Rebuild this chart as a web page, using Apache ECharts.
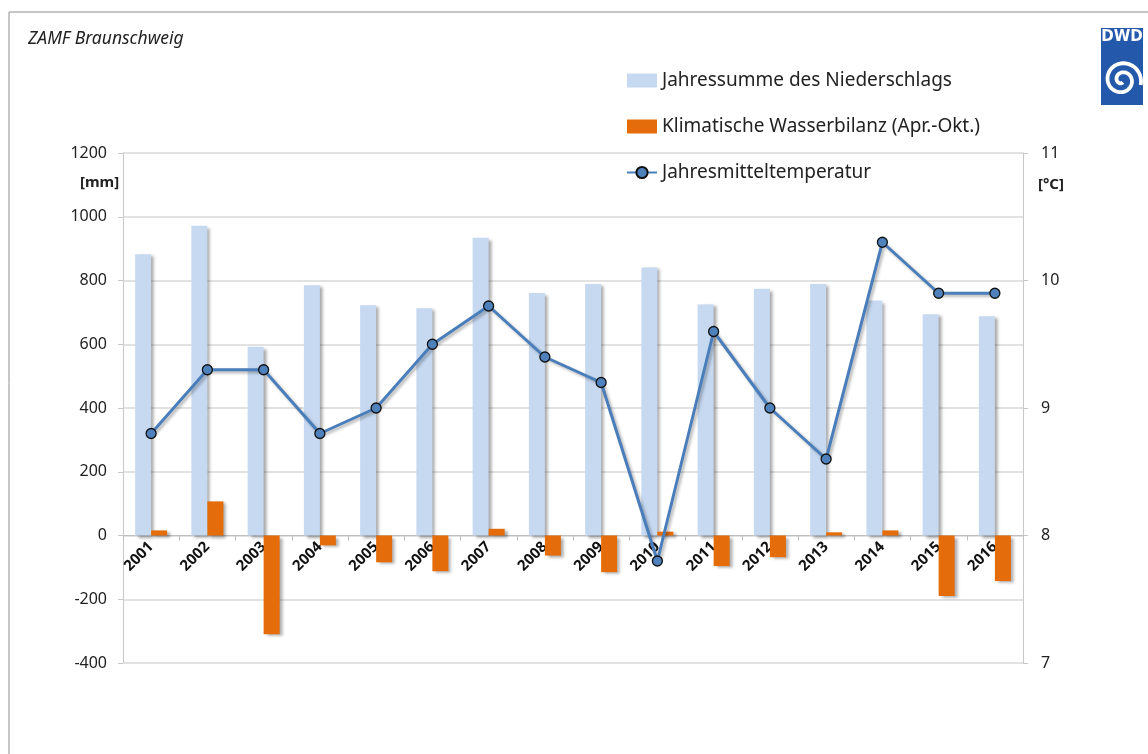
<!DOCTYPE html>
<html>
<head>
<meta charset="utf-8">
<script src="https://cdn.jsdelivr.net/npm/echarts@6/dist/echarts.min.js"></script>
<style>
  html, body { margin: 0; padding: 0; background: #fff; }
  #main { width: 1148px; height: 754px; }
</style>
</head>
<body>
<div id="main"></div>
<script>
var years = ['2001','2002','2003','2004','2005','2006','2007','2008','2009','2010','2011','2012','2013','2014','2015','2016'];
var niederschlag = [882, 972, 592, 785, 722, 713, 934, 761, 789, 841, 725, 774, 789, 737, 694, 688];
var wasserbilanz = [16, 107, -310, -31, -84, -112, 21, -63, -115, 12, -96, -68, 10, 16, -190, -143];
var temperatur = [8.8, 9.3, 9.3, 8.8, 9.0, 9.5, 9.8, 9.4, 9.2, 7.8, 9.6, 9.0, 8.6, 10.3, 9.9, 9.9];

var FONT = 'Noto Sans';

// DWD spiral for the logo (decoration only)
function spiralPoints(cx, cy) {
  var pts = [];
  for (var i = 0; i <= 90; i++) {
    var t = i / 90 * Math.PI * 3.7;
    var r = 2.5 + t * 1.45;
    pts.push([cx + r * Math.cos(t + 1.2), cy + r * Math.sin(t + 1.2)]);
  }
  return pts;
}

var myChart = echarts.init(document.getElementById('main'));
var barShadow = {
  shadowColor: 'rgba(0,0,0,0.35)',
  shadowBlur: 3,
  shadowOffsetX: 3,
  shadowOffsetY: 2
};

// the x axis sits at 0 mm: 400 of 1600 mm over a 510px high plot
var plotH = 754 - 153 - 91;
var zeroOffset = -plotH * 400 / 1600;

myChart.setOption({
  animation: false,
  textStyle: { fontFamily: FONT },
  graphic: [
    { type: 'rect', shape: { x: 9, y: 12, width: 1160, height: 760 },
      style: { fill: 'none', stroke: '#8c8c8c', lineWidth: 1 }, silent: true, z: -10 },
    { type: 'text', x: 28, y: 30,
      style: { text: 'ZAMF Braunschweig', font: 'italic 17.5px "Noto Sans"', fill: '#222' } },
    { type: 'text', x: 80, y: 175,
      style: { text: '[mm]', font: 'bold 15px "Noto Sans"', fill: '#222' } },
    { type: 'text', x: 1038, y: 177,
      style: { text: '[°C]', font: 'bold 15px "Noto Sans"', fill: '#222' } },
    { type: 'rect', shape: { x: 1101, y: 28, width: 42, height: 77 },
      style: { fill: '#2458ab' } },
    { type: 'text', x: 1122, y: 30,
      style: { text: 'DWD', font: 'bold 15px "DejaVu Sans"', fill: '#fff', align: 'center' } },
    { type: 'polyline', shape: { points: spiralPoints(1122, 80) },
      style: { fill: null, stroke: '#fff', lineWidth: 3.8 } }
  ],
  legend: {
    orient: 'vertical',
    left: 621,
    top: 66,
    itemWidth: 30,
    itemHeight: 14,
    itemGap: 27,
    textStyle: { fontSize: 19, color: '#222', fontFamily: FONT },
    data: [
      { name: 'Jahressumme des Niederschlags', icon: 'rect' },
      { name: 'Klimatische Wasserbilanz (Apr.-Okt.)', icon: 'rect' },
      'Jahresmitteltemperatur'
    ]
  },
  grid: { left: 123, right: 125, top: 153, bottom: 91 },
  xAxis: {
    type: 'category',
    data: years,
    offset: zeroOffset,
    z: 0,
    axisLine: { onZero: false, lineStyle: { color: '#bfbfbf', width: 1 } },
    axisTick: { show: true, length: 5, lineStyle: { color: '#bfbfbf' } },
    axisLabel: { rotate: 45, margin: 9, fontWeight: 'bold', fontSize: 15, color: '#111', fontFamily: FONT }
  },
  yAxis: [
    {
      type: 'value', min: -400, max: 1200, interval: 200,
      axisLine: { show: true, lineStyle: { color: '#c8c8c8' } },
      axisTick: { show: true, length: 5, lineStyle: { color: '#c8c8c8' } },
      axisLabel: { fontSize: 16, color: '#222', margin: 16, fontFamily: FONT, formatter: function (v) { return String(v); } },
      splitLine: { lineStyle: { color: '#d9d9d9', width: 1.5 } }
    },
    {
      type: 'value', min: 7, max: 11, interval: 1,
      axisLine: { show: true, lineStyle: { color: '#c8c8c8' } },
      axisTick: { show: true, length: 5, lineStyle: { color: '#c8c8c8' } },
      axisLabel: { fontSize: 16, color: '#222', margin: 18, fontFamily: FONT },
      splitLine: { show: false }
    }
  ],
  series: [
    {
      name: 'Jahressumme des Niederschlags',
      type: 'bar',
      data: niederschlag,
      barWidth: 16,
      barGap: '0%',
      z: 5,
      itemStyle: Object.assign({ color: '#c6d9f1' }, barShadow)
    },
    {
      name: 'Klimatische Wasserbilanz (Apr.-Okt.)',
      type: 'bar',
      data: wasserbilanz,
      barWidth: 16,
      z: 5,
      itemStyle: Object.assign({ color: '#e46c0a' }, barShadow)
    },
    {
      name: 'Jahresmitteltemperatur',
      type: 'line',
      yAxisIndex: 1,
      data: temperatur,
      symbol: 'circle',
      symbolSize: 10,
      z: 6,
      lineStyle: { color: '#4a7ebb', width: 3, shadowColor: 'rgba(0,0,0,0.3)', shadowBlur: 3, shadowOffsetX: 2, shadowOffsetY: 2 },
      itemStyle: { color: '#4f81bd', borderColor: '#111', borderWidth: 1.3 }
    }
  ]
});
</script>
</body>
</html>
